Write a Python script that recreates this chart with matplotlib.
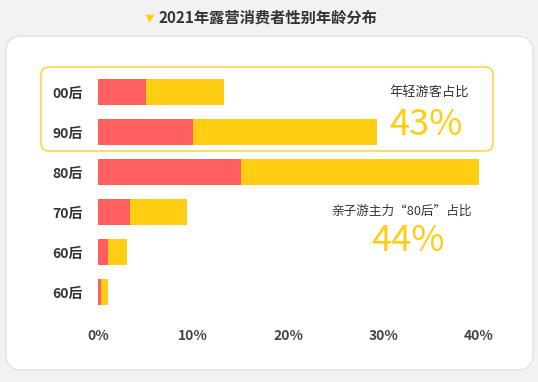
import matplotlib.pyplot as plt
from matplotlib.patches import FancyBboxPatch
from matplotlib.transforms import IdentityTransform

plt.rcParams['font.family'] = ['Noto Sans CJK SC', 'DejaVu Sans']

# data (percent of campers)
groups = ['00后', '90后', '80后', '70后', '60后', '60后']
red_part = [5.0, 10.0, 15.0, 3.4, 1.05, 0.3]
total = [13.2, 29.3, 40.1, 9.3, 3.0, 1.0]
yellow_part = [t - r for t, r in zip(total, red_part)]
xticks = [0, 10, 20, 30, 40]
xtick_labels = ['0%', '10%', '20%', '30%', '40%']

RED = '#FF5F5F'
YELLOW = '#FFCE14'
DARK = '#333333'

W, H = 538, 382
fig = plt.figure(figsize=(W / 100, H / 100), dpi=100)
fig.patch.set_facecolor('#F2F2F2')

def px(x, y):
    # top-left pixel coords -> display coords
    return x, H - y

# white card
card = FancyBboxPatch(px(6, 370), 527, 334, boxstyle='round,pad=0,rounding_size=16',
                      transform=IdentityTransform(), facecolor='white',
                      edgecolor='#E2E2E2', linewidth=1, zorder=0)
fig.add_artist(card)

# highlight box around 00后 / 90后
hl = FancyBboxPatch(px(41, 151), 452, 84, boxstyle='round,pad=0,rounding_size=8',
                    transform=IdentityTransform(), facecolor='none',
                    edgecolor='#FFD54A', linewidth=1.2, zorder=1)
fig.add_artist(hl)

# title
fig.text(150 / W, 1 - 18 / H, '▼', color=YELLOW, fontsize=7, ha='center', va='center')
fig.text(268 / W, 1 - 18 / H, '2021年露营消费者性别年龄分布', color=DARK,
         fontsize=11, fontweight='bold', ha='center', va='center')

ax = fig.add_axes([98 / W, 1 - 312 / H, (479 - 98) / W, 240 / H])
ax.set_facecolor('none')
y = list(range(len(groups)))
ax.barh(y, red_part, height=0.63, color=RED, zorder=2)
ax.barh(y, yellow_part, left=red_part, height=0.63, color=YELLOW, zorder=2)
ax.set_xlim(0, 40)
ax.set_ylim(len(groups) - 0.5, -0.5)
ax.set_yticks(y)
ax.set_yticklabels(groups, fontsize=10, color=DARK, fontweight='bold')
ax.set_xticks(xticks)
ax.set_xticklabels(xtick_labels, fontsize=10, color='#444444', fontweight='bold')
ax.tick_params(length=0)
ax.tick_params(axis='x', pad=12)
ax.tick_params(axis='y', pad=11)
for s in ax.spines.values():
    s.set_visible(False)

# annotations
fig.text(429 / W, 1 - 92 / H, '年轻游客占比', color=DARK, fontsize=9.5,
         ha='center', va='center', fontweight='medium')
fig.text(426 / W, 1 - 125 / H, '43%', color=YELLOW, fontsize=26,
         ha='center', va='center', fontweight='light')
fig.text(401 / W, 1 - 211 / H, '亲子游主力“80后”占比', color=DARK, fontsize=9.1,
         ha='center', va='center', fontweight='medium')
fig.text(408 / W, 1 - 241 / H, '44%', color=YELLOW, fontsize=26,
         ha='center', va='center', fontweight='light')

fig.savefig('out.png', dpi=100, facecolor=fig.get_facecolor())
